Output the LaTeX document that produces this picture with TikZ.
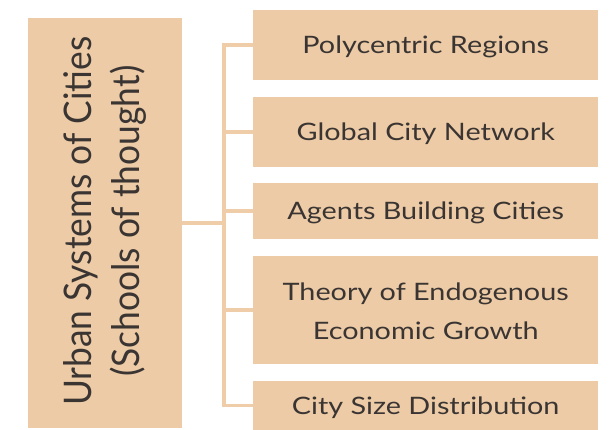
\documentclass[tikz,border=0pt]{standalone}
\usepackage{fontspec}
\setmainfont{Lato}
\newfontfamily\rightfont[FakeStretch=1.2]{Lato}
\newfontfamily\leftfont[FakeStretch=0.93]{Lato}
\definecolor{boxc}{HTML}{EDCBA6}
\definecolor{linec}{HTML}{EFCDA8}
\definecolor{txt}{HTML}{3A3533}
\begin{document}
\begin{tikzpicture}[x=1pt,y=-1pt,
  item/.style={fill=boxc,draw=none,minimum width=345pt,anchor=north west,inner sep=0pt},
  lbl/.style={text=txt,font=\rightfont\fontsize{24}{39}\selectfont,align=center,inner sep=0pt},
  conn/.style={draw=linec,line width=3.5pt}]
\useasboundingbox (0,0) rectangle (614,430);
\node[fill=boxc,minimum width=154pt,minimum height=410pt,anchor=north west,inner sep=0pt] (main) at (28,18) {};
\node[rotate=90,text=txt,font=\leftfont\fontsize{38}{48}\selectfont,align=center,xshift=2pt] (mt) at (main.center) {Urban Systems of Cities\\(Schools of thought)};
\node[item,minimum height=70pt] (b1) at (253,10) {};
\node[item,minimum height=70pt] (b2) at (253,97) {};
\node[item,minimum height=56pt] (b3) at (253,183) {};
\node[item,minimum height=108pt] (b4) at (253,256) {};
\node[item,minimum height=49pt] (b5) at (253,381) {};
\node[lbl,yshift=-2pt] (t1) at (b1.center) {Polycentric Regions};
\node[lbl,yshift=-2pt] (t2) at (b2.center) {Global City Network};
\node[lbl,yshift=-2pt] (t3) at (b3.center) {Agents Building Cities};
\node[lbl,yshift=-1pt] (t4) at (b4.center) {Theory of Endogenous\\Economic Growth};
\node[lbl,yshift=-2pt] (t5) at (b5.center) {City Size Distribution};
\coordinate (j) at (224,223);
\draw[conn] (main.east |- j) -- (j);
\draw[conn] (b1.west) -| (j) |- (b5.west);
\draw[conn] (j |- b2.west) -- (b2.west);
\draw[conn] (j |- b3.west) -- (b3.west);
\draw[conn] (j |- b4.west) -- (b4.west);
\end{tikzpicture}
\end{document}
